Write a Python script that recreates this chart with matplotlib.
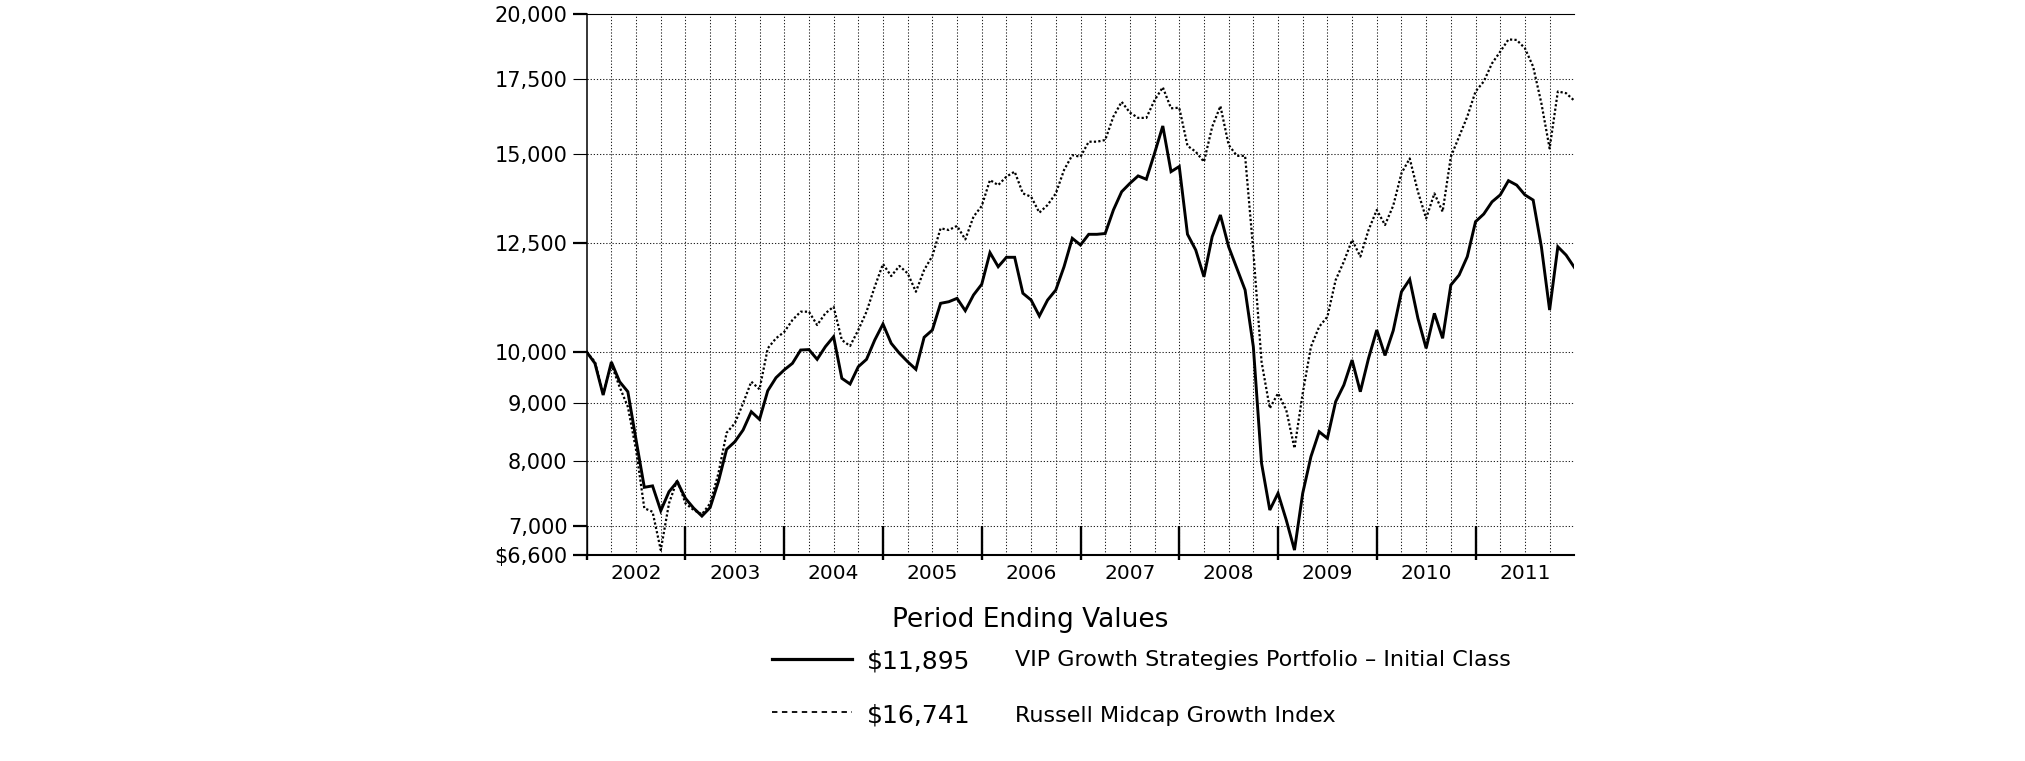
import numpy as np
import matplotlib
matplotlib.use("Agg")
import matplotlib.pyplot as plt
from matplotlib.lines import Line2D
from matplotlib.ticker import FixedLocator, NullLocator, NullFormatter

# month-end values, Dec 2001 .. Dec 2011 (hypothetical $10,000 investment)
vip_values = [
    10000, 9771, 9156, 9797, 9410, 9218, 8350, 7578, 7600, 7223, 7510, 7665,
    7408, 7260, 7144, 7270, 7665, 8191, 8320, 8522, 8848, 8710, 9237, 9487,
    9640, 9771, 10041, 10050, 9851, 10110, 10319, 9475, 9365, 9703, 9851, 10249,
    10591, 10180, 9973, 9803, 9651, 10306, 10461, 11050, 11086, 11163, 10884, 11240,
    11490, 12260, 11911, 12143, 12143, 11280, 11124, 10767, 11124, 11356, 11911, 12625,
    12453, 12729, 12729, 12750, 13381, 13890, 14130, 14348, 14250, 15032, 15894, 14474,
    14627, 12730, 12327, 11668, 12667, 13243, 12408, 11871, 11356, 10110, 7960, 7233,
    7486, 7087, 6663, 7486, 8070, 8492, 8378, 9032, 9346, 9837, 9218, 9872,
    10461, 9930, 10450, 11315, 11606, 10715, 10076, 10825, 10285, 11472, 11709, 12161,
    13063, 13270, 13605, 13800, 14208, 14080, 13800, 13655, 12408, 10899, 12408, 12199,
    11895,
]
russell_values = [
    10000, 9800, 9180, 9750, 9308, 8938, 8180, 7260, 7207, 6663, 7333, 7694,
    7333, 7233, 7170, 7333, 7796, 8474, 8640, 9000, 9410, 9264, 10076, 10285,
    10420, 10678, 10862, 10862, 10569, 10825, 10973, 10249, 10124, 10461, 10862, 11433,
    11977, 11685, 11929, 11750, 11315, 11831, 12176, 12886, 12842, 12950, 12596, 13198,
    13490, 14227, 14080, 14327, 14474, 13842, 13748, 13307, 13517, 13842, 14522, 14973,
    14922, 15390, 15390, 15444, 16205, 16701, 16338, 16160, 16160, 16758, 17207, 16481,
    16500, 15260, 15078, 14770, 15866, 16556, 15290, 14950, 14950, 12300, 9800, 8910,
    9188, 8880, 8209, 9188, 10110, 10532, 10750, 11589, 12036, 12583, 12161, 12842,
    13381, 12975, 13500, 14426, 14871, 13890, 13151, 13842, 13334, 14922, 15550, 16205,
    17059, 17413, 18070, 18510, 18980, 18960, 18640, 17950, 16651, 15180, 17059, 17000,
    16741,
]
years = ["2002", "2003", "2004", "2005", "2006", "2007", "2008", "2009", "2010", "2011"]
y_ticks = [6600, 7000, 8000, 9000, 10000, 12500, 15000, 17500, 20000]
y_labels = ["$6,600", "7,000", "8,000", "9,000", "10,000", "12,500", "15,000", "17,500", "20,000"]
heavy_y = [6600, 7000, 10000, 12500, 20000]
grid_y = [7000, 8000, 9000, 10000, 12500, 15000, 17500]
vip_name = "VIP Growth Strategies Portfolio \u2013 Initial Class"
russell_name = "Russell Midcap Growth Index"
vip_end = "$11,895"
russell_end = "$16,741"

W, H = 2025, 761
months = np.arange(len(vip_values))

fig = plt.figure(figsize=(W / 100, H / 100), dpi=100)
ax = fig.add_axes([586.7 / W, 1 - 554.7 / H, (1574.3 - 586.7) / W, (554.7 - 13.9) / H])

ax.set_yscale("log")
ax.set_ylim(6600, 20000)
ax.set_xlim(0, 120)

# dotted grid
ax.hlines(grid_y, 0, 120, colors="#222222", linewidth=0.75, linestyles=(0, (1.2, 1.8)), zorder=1)
ax.vlines(np.arange(3, 120, 3), 6600, 20000, colors="#222222", linewidth=0.75,
          linestyles=(0, (1.2, 1.8)), zorder=1)

# year boundary ticks
ax.vlines(np.arange(0, 120, 12), 6600, 7000, colors="k", linewidth=1.7, zorder=3)

ax.plot(months, vip_values, color="k", linewidth=2.1, solid_joinstyle="miter", zorder=4)
ax.plot(months, russell_values, color="k", linewidth=1.6, linestyle=(0, (1.0, 1.0)), zorder=4)

# y axis
ax.yaxis.set_major_locator(FixedLocator(y_ticks))
ax.yaxis.set_minor_locator(NullLocator())
ax.yaxis.set_minor_formatter(NullFormatter())
ax.set_yticklabels(y_labels)
ax.tick_params(axis="y", which="major", direction="out", length=10, width=0.8,
               pad=3.8, labelsize=15, colors="k")
for t, v in zip(ax.yaxis.get_major_ticks(), y_ticks):
    if v in heavy_y:
        t.tick1line.set_markeredgewidth(1.6)

# x axis: short ticks at year starts, labels centred in each year
ax.set_xticks(np.arange(0, 120, 12))
ax.set_xticklabels([])
ax.tick_params(axis="x", which="major", direction="out", length=3.5, width=1.7)
ax.set_xticks(np.arange(6, 120, 12), minor=True)
ax.set_xticklabels(years, minor=True)
ax.tick_params(axis="x", which="minor", length=0, pad=7, labelsize=14.5)

ax.spines["right"].set_visible(False)
ax.spines["top"].set_linewidth(0.8)
ax.spines["left"].set_linewidth(1.1)
ax.spines["bottom"].set_linewidth(1.5)


def fx(px):
    return px / W


def fy(py):
    return 1 - py / H


fig.text(fx(1030), fy(620), "Period Ending Values", ha="center", va="center", fontsize=19)

fig.add_artist(Line2D([fx(772), fx(852)], [fy(659), fy(659)], color="k", linewidth=2.3))
fig.text(fx(866.5), fy(662), vip_end, ha="left", va="center", fontsize=18)
fig.text(fx(1014.6), fy(660), vip_name, ha="left", va="center", fontsize=16)

fig.add_artist(Line2D([fx(772), fx(852)], [fy(712), fy(712)], color="k", linewidth=1.3,
                      linestyle=(0, (3, 2.5))))
fig.text(fx(866.5), fy(716), russell_end, ha="left", va="center", fontsize=18)
fig.text(fx(1014.6), fy(716), russell_name, ha="left", va="center", fontsize=16)

fig.savefig("out.png", dpi=100)
